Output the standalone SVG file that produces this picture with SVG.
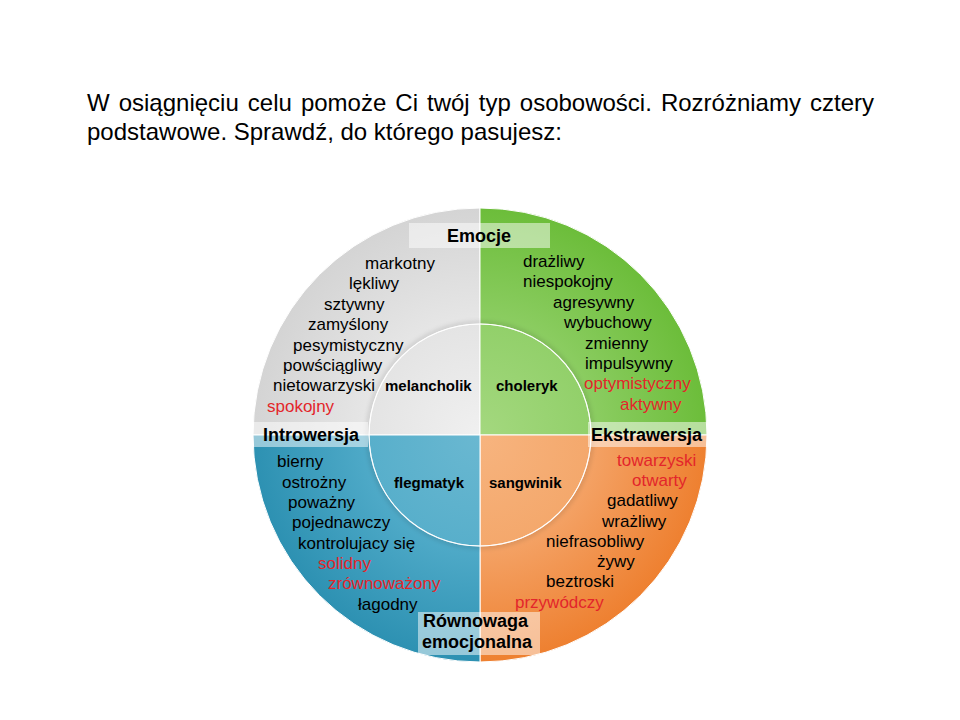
<svg xmlns="http://www.w3.org/2000/svg" width="960" height="720" viewBox="0 0 960 720">
<defs>
<style>
text{font-family:"Liberation Sans",Arial,sans-serif;fill:#000}
.h{font-size:24px}
.w{font-size:17px}
.r{fill:#e3262b}
.t{font-size:15px;font-weight:bold}
.a{font-size:18px;font-weight:bold}
.box{fill:#fff;fill-opacity:0.5}
.q{stroke:#fff;stroke-width:1}
</style>
<radialGradient id="gG" cx="480" cy="435" r="227" gradientUnits="userSpaceOnUse">
<stop offset="0" stop-color="#f2f2f2"/><stop offset="0.5" stop-color="#e6e6e6"/><stop offset="1" stop-color="#d4d4d4"/>
</radialGradient>
<radialGradient id="gN" cx="480" cy="435" r="227" gradientUnits="userSpaceOnUse">
<stop offset="0" stop-color="#a8da86"/><stop offset="0.5" stop-color="#8ccd62"/><stop offset="1" stop-color="#6cbd3a"/>
</radialGradient>
<radialGradient id="gB" cx="480" cy="435" r="227" gradientUnits="userSpaceOnUse">
<stop offset="0" stop-color="#72bcd4"/><stop offset="0.5" stop-color="#4faac8"/><stop offset="1" stop-color="#2d91b2"/>
</radialGradient>
<radialGradient id="gO" cx="480" cy="435" r="227" gradientUnits="userSpaceOnUse">
<stop offset="0" stop-color="#f7b886"/><stop offset="0.5" stop-color="#f4a265"/><stop offset="1" stop-color="#ee8030"/>
</radialGradient>
<radialGradient id="iG" cx="480" cy="435" r="111" gradientUnits="userSpaceOnUse">
<stop offset="0" stop-color="#f0f0f0"/><stop offset="1" stop-color="#e4e4e4"/>
</radialGradient>
<radialGradient id="iN" cx="480" cy="435" r="111" gradientUnits="userSpaceOnUse">
<stop offset="0" stop-color="#a4d87f"/><stop offset="1" stop-color="#92d06a"/>
</radialGradient>
<radialGradient id="iB" cx="480" cy="435" r="111" gradientUnits="userSpaceOnUse">
<stop offset="0" stop-color="#6ab8d1"/><stop offset="1" stop-color="#58afcb"/>
</radialGradient>
<radialGradient id="iO" cx="480" cy="435" r="111" gradientUnits="userSpaceOnUse">
<stop offset="0" stop-color="#f7b47f"/><stop offset="1" stop-color="#f4a86c"/>
</radialGradient>
<filter id="blur" x="-10%" y="-10%" width="120%" height="120%"><feGaussianBlur stdDeviation="2"/></filter>
</defs>
<rect width="960" height="720" fill="#fff"/>

<g id="heading">
<text class="h" y="111"><tspan x="87">W</tspan><tspan x="118.7">osiągnięciu</tspan><tspan x="247.8">celu</tspan><tspan x="300.9">pomoże</tspan><tspan x="395.3">Ci</tspan><tspan x="427">twój</tspan><tspan x="478.8">typ</tspan><tspan x="519.8">osobowości.</tspan><tspan x="660.9">Rozróżniamy</tspan><tspan x="810">cztery</tspan></text>
<text class="h" x="87" y="140">podstawowe. Sprawdź, do którego pasujesz:</text>
</g>

<g id="outer-ring">
<path class="q" d="M480,435 L480,208 A227,227 0 0 0 253,435 Z" fill="url(#gG)"/>
<path class="q" d="M480,435 L707,435 A227,227 0 0 0 480,208 Z" fill="url(#gN)"/>
<path class="q" d="M480,435 L480,662 A227,227 0 0 0 707,435 Z" fill="url(#gO)"/>
<path class="q" d="M480,435 L253,435 A227,227 0 0 0 480,662 Z" fill="url(#gB)"/>
</g>

<g id="inner-ring">
<circle cx="480" cy="435" r="112" fill="none" stroke="#000" stroke-opacity="0.12" stroke-width="4" filter="url(#blur)"/>
<path class="q" d="M480,435 L480,324 A111,111 0 0 0 369,435 Z" fill="url(#iG)"/>
<path class="q" d="M480,435 L591,435 A111,111 0 0 0 480,324 Z" fill="url(#iN)"/>
<path class="q" d="M480,435 L480,546 A111,111 0 0 0 591,435 Z" fill="url(#iO)"/>
<path class="q" d="M480,435 L369,435 A111,111 0 0 0 480,546 Z" fill="url(#iB)"/>
<circle cx="480" cy="435" r="111" fill="none" stroke="#fff" stroke-opacity="0.8" stroke-width="1.2"/>
</g>

<g id="melancholik">
<text class="t" x="385" y="391">melancholik</text>
<text class="w" x="365" y="269">markotny</text>
<text class="w" x="349" y="289.4">lękliwy</text>
<text class="w" x="324" y="309.8">sztywny</text>
<text class="w" x="308" y="330.2">zamyślony</text>
<text class="w" x="293" y="350.6">pesymistyczny</text>
<text class="w" x="283" y="371">powściągliwy</text>
<text class="w" x="273" y="391.4">nietowarzyski</text>
<text class="w r" x="267" y="411.8">spokojny</text>
</g>

<g id="choleryk">
<text class="t" x="496" y="391">choleryk</text>
<text class="w" x="523" y="267">drażliwy</text>
<text class="w" x="523" y="287">niespokojny</text>
<text class="w" x="553" y="307.5">agresywny</text>
<text class="w" x="564" y="328">wybuchowy</text>
<text class="w" x="585" y="348.5">zmienny</text>
<text class="w" x="585" y="368.5">impulsywny</text>
<text class="w r" x="584" y="389">optymistyczny</text>
<text class="w r" x="620" y="409.5">aktywny</text>
</g>

<g id="flegmatyk">
<text class="t" x="394" y="488">flegmatyk</text>
<text class="w" x="277" y="467">bierny</text>
<text class="w" x="282" y="487.5">ostrożny</text>
<text class="w" x="288" y="508">poważny</text>
<text class="w" x="292" y="528">pojednawczy</text>
<text class="w" x="298" y="548.5">kontrolujacy się</text>
<text class="w r" x="318" y="569">solidny</text>
<text class="w r" x="328" y="589">zrównoważony</text>
<text class="w" x="358" y="609.5">łagodny</text>
</g>

<g id="sangwinik">
<text class="t" x="489" y="488">sangwinik</text>
<text class="w r" x="617" y="465.5">towarzyski</text>
<text class="w r" x="632" y="486">otwarty</text>
<text class="w" x="607" y="506">gadatliwy</text>
<text class="w" x="602" y="526.5">wrażliwy</text>
<text class="w" x="546" y="546.5">niefrasobliwy</text>
<text class="w" x="597" y="567">żywy</text>
<text class="w" x="546" y="587">beztroski</text>
<text class="w r" x="515" y="607.5">przywódczy</text>
</g>

<g id="label-emocje">
<rect class="box" x="409" y="223" width="141" height="25"/>
<text class="a" x="447" y="242">Emocje</text>
</g>
<g id="label-introwersja">
<rect class="box" x="253" y="422" width="115" height="25"/>
<text class="a" x="263" y="441">Introwersja</text>
</g>
<g id="label-ekstrawersja">
<rect class="box" x="588" y="422" width="119" height="25"/>
<text class="a" x="591" y="441">Ekstrawersja</text>
</g>
<g id="label-rownowaga">
<rect class="box" x="418" y="612" width="122" height="43"/>
<text class="a" x="423" y="627">Równowaga</text>
<text class="a" x="422" y="648">emocjonalna</text>
</g>
</svg>
